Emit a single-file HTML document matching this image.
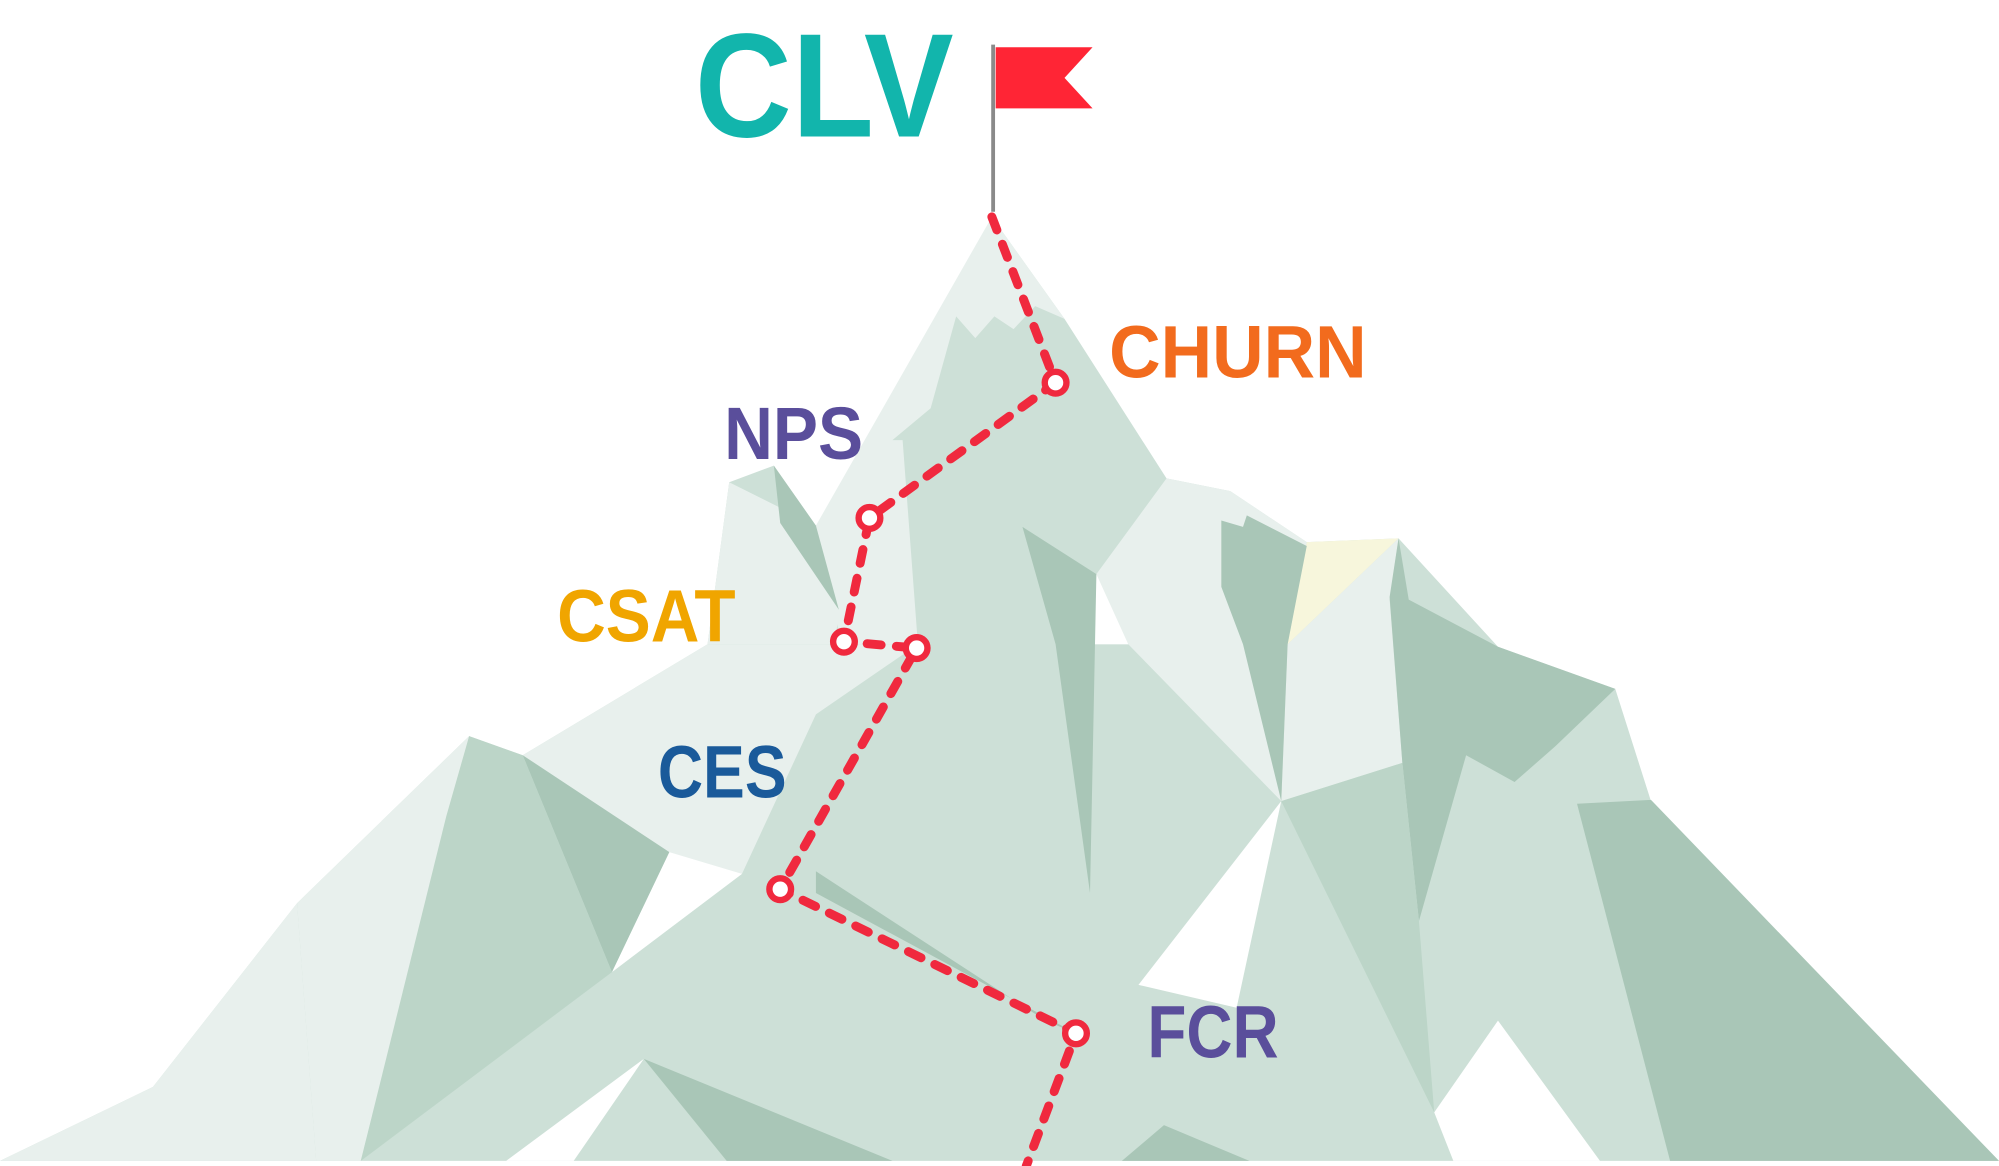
<!DOCTYPE html>
<html><head><meta charset="utf-8"><style>
html,body{margin:0;padding:0;background:#fff;}
svg{display:block;}
text{font-family:"Liberation Sans",sans-serif;font-weight:bold;}
</style></head><body>
<svg width="1999" height="1166" viewBox="0 0 1568 914" preserveAspectRatio="none" xmlns="http://www.w3.org/2000/svg">
<rect width="1568" height="914" fill="#fff"/>
<polygon fill="#cde0d7" points="0,910 120,852 233,708 368,577 410,592 555,505 572,378 607,365 640,412 700,345 778,170 835,250 915,375 965,385 1025,425 1097,422 1175,507 1267,540 1295,628 1568,910"/>
<g fill="#e8f0ed">
<polygon points="0,910 120,852 233,708 248,910"/>
<polygon points="233,708 368,577 283,910 248,910"/>
<polygon points="410,592 555,505 720,505 640,560 582,685 480,762 525,668"/>
<polygon points="555,505 572,378 640,412 658,478 655,505"/>
<polygon points="640,412 778,170 835,250 812,240 795,258 780,248 765,265 750,248 730,320 712,335 700,345 708,345 720,505 660,505"/>
<polygon points="860,450 915,375 965,385 1025,425 1010,505 1005,628 885,505 855,505"/>
<polygon points="1010,505 1097,422 1090,470 1100,598 1005,628"/>
</g>
<polygon fill="#f7f6dc" points="1025,425 1097,422 1010,505"/>
<g fill="#fff">
<polygon points="525,668 582,685 480,762"/>
<polygon points="893,772 1005,628 970,790"/>
<polygon points="1125,872 1175,800 1255,910 1140,910"/>
<polygon points="397,910 505,830 450,910"/>
<polygon points="855,505 885,505 860,450"/>
</g>
<g fill="#a9c6b7">
<polygon points="958,408 975,413 978,404 1025,428 1010,505 1005,628 975,505 958,460"/>
<polygon points="1090,468 1097,422 1105,470 1175,507 1267,540 1220,585 1188,613 1150,592 1113,722 1100,598"/>
<polygon points="1237,630 1295,627 1568,910 1310,910"/>
<polygon points="410,592 525,668 480,762"/>
<polygon points="802,413 860,450 855,700 828,505"/>
<polygon points="607,365 640,412 658,478 612,410"/>
<polygon points="640,683 820,800 844,810 640,700"/>
<polygon points="505,830 570,910 700,910"/>
<polygon points="913,882 980,910 880,910"/>
</g>
<g fill="#bcd5c8">
<polygon points="283,910 350,640 368,577 410,592 480,762"/>
<polygon points="1005,628 1100,598 1113,722 1125,872 1005,628"/>
</g>
<line x1="779" y1="35" x2="779" y2="166" stroke="#8a8a8a" stroke-width="3"/>
<polygon fill="#ff2535" points="781,37 857,37 835,61 857,85 781,85"/>
<polyline fill="none" stroke="#f0293e" stroke-width="7" stroke-linecap="round" stroke-dasharray="11,12" points="778,170 828,300 682,406 662,503 719,508 612,697 844,810 805,914"/>
<g fill="#fff" stroke="#f0293e" stroke-width="5">
<circle cx="828" cy="300" r="8.5"/>
<circle cx="682" cy="406" r="8.5"/>
<circle cx="662" cy="503" r="8.5"/>
<circle cx="719" cy="508" r="8.5"/>
<circle cx="612" cy="697" r="8.5"/>
<circle cx="844" cy="810" r="8.5"/>
</g>
<text x="545" y="107" font-size="116" fill="#12b5ac" textLength="203" lengthAdjust="spacingAndGlyphs">CLV</text>
<text x="870" y="296" font-size="58" fill="#f26b1d" textLength="202" lengthAdjust="spacingAndGlyphs">CHURN</text>
<text x="568" y="360" font-size="58" fill="#5a4e9b" textLength="109" lengthAdjust="spacingAndGlyphs">NPS</text>
<text x="437" y="503" font-size="58" fill="#f0a500" textLength="140" lengthAdjust="spacingAndGlyphs">CSAT</text>
<text x="516" y="625" font-size="58" fill="#1a5a9a" textLength="101" lengthAdjust="spacingAndGlyphs">CES</text>
<text x="900" y="829" font-size="58" fill="#5a4e9b" textLength="103" lengthAdjust="spacingAndGlyphs">FCR</text>
</svg>
</body></html>
